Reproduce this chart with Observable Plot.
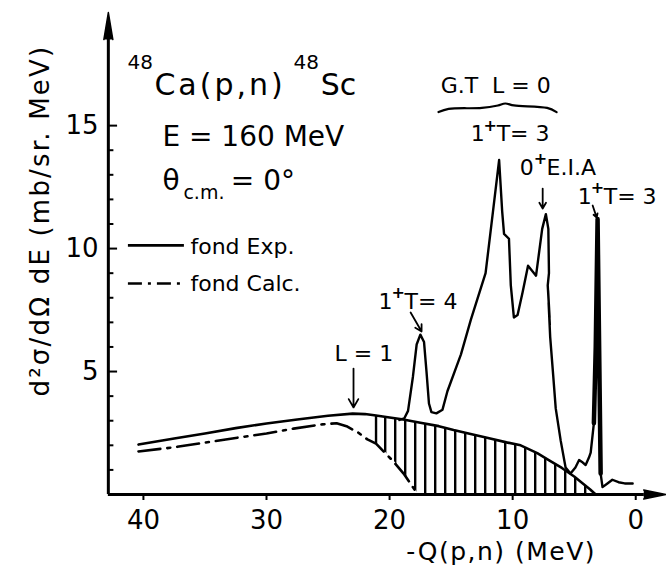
<!DOCTYPE html>
<html><head><meta charset="utf-8">
<script src="https://cdn.jsdelivr.net/npm/d3@7"></script>
<script src="https://cdn.jsdelivr.net/npm/@observablehq/plot@0.6"></script>
<style>body{margin:0;background:#fff} svg{display:block}</style>
</head><body><div id="chart"></div>
<script>
// -Q(p,n) (MeV) and d2sigma/dOmega dE (mb/sr.MeV)
const spectrumQ     = [19.2, 18.8, 18.5, 18.1, 17.8, 17.5, 17.2, 17.0, 16.8, 16.6, 16.2, 15.7, 15.3, 14.2, 13.4, 12.2, 11.6, 11.1, 10.85, 10.7, 10.3, 10.15, 9.9, 9.6, 9.2, 8.75, 8.1, 7.6, 7.3, 7.1, 7.05, 7.15, 7.0, 7.12, 6.98, 7.08, 6.95, 6.7, 6.5, 6.1, 5.7, 5.3, 4.9, 4.6, 4.3, 4.07, 3.8, 3.66, 3.4, 3.25, 3.1, 2.95, 2.85, 2.7, 2.3, 1.9, 1.4, 0.9, 0.25];
const spectrumSigma = [3.03, 3.1, 3.4, 4.8, 6.1, 6.5, 6.2, 5.0, 3.7, 3.35, 3.3, 3.45, 4.2, 5.7, 7.1, 9.0, 11.5, 13.6, 11.5, 10.6, 10.4, 8.5, 7.2, 7.3, 8.2, 9.3, 8.9, 10.8, 11.4, 10.8, 9.0, 8.5, 7.2, 8.3, 6.9, 7.8, 6.4, 4.8, 3.5, 2.2, 1.1, 0.85, 1.1, 1.4, 1.3, 1.2, 1.5, 1.7, 2.9, 6.0, 11.2, 5.0, 0.85, 0.3, 0.45, 0.6, 0.5, 0.45, 0.45];
const narrowPeakQ     = [3.4, 3.25, 3.1, 2.95, 2.85];
const narrowPeakSigma = [2.9, 6.0, 11.2, 5.0, 0.85];
const fondExpQ     = [40.4, 37.5, 35, 32.5, 30, 27.5, 25, 23, 22, 21.1, 20, 19, 17.5, 16, 14.8, 13.5, 12, 10.5, 9.35, 8, 7, 6, 5, 4.3, 3.7, 3.25];
const fondExpSigma = [2.03, 2.28, 2.48, 2.7, 2.89, 3.05, 3.2, 3.29, 3.27, 3.21, 3.13, 3.06, 2.92, 2.78, 2.62, 2.47, 2.3, 2.12, 2.0, 1.68, 1.38, 1.08, 0.73, 0.45, 0.2, 0];
const fondCalcQ     = [40.4, 37.5, 35, 32.5, 30, 27.8, 25.5, 24.3, 23.5, 22.5, 21.8, 21.1, 19.76, 18.86, 17.7];
const fondCalcSigma = [1.75, 1.92, 2.11, 2.3, 2.48, 2.68, 2.85, 2.9, 2.78, 2.5, 2.24, 2.07, 1.38, 0.85, 0];
const hatchStart = 21.1;
const xTicks = [40, 30, 20, 10, 0];
const yTicks = [5, 10, 15];
const yMinorTicks = [1, 2, 3, 4, 6, 7, 8, 9, 11, 12, 13, 14];

const spectrum = spectrumQ.map((q, i) => ({q, s: spectrumSigma[i]}));
const narrowPeak = narrowPeakQ.map((q, i) => ({q, s: narrowPeakSigma[i]}));
const fondExp = fondExpQ.map((q, i) => ({q, s: fondExpSigma[i]}));
const fondCalc = fondCalcQ.map((q, i) => ({q, s: fondCalcSigma[i]}));
const hatchEdge = [{q: hatchStart, s1: fondCalcSigma[fondCalcQ.indexOf(hatchStart)], s2: fondExpSigma[fondExpQ.indexOf(hatchStart)]}];

// annotations (data coordinates)
const bigTexts = [
  {x: 39.11, y: 16.23, t: "Ca(p,n)"},
  {x: 25.6, y: 16.23, t: "Sc"}
];
const supTexts = [
  {x: 41.30, y: 17.32, t: "48"},
  {x: 27.8, y: 17.32, t: "48"}
];
const midTexts = [
  {x: 38.46, y: 14.19, t: "E = 160 MeV"},
  {x: 38.46, y: 12.40, t: "θ"},
  {x: 32.9, y: 12.40, t: "= 0°"}
];
const subTexts = [{x: 36.75, y: 12.0, t: "c.m."}];
const smallTexts = [
  {x: 36.18, y: 9.80, t: "fond Exp."},
  {x: 36.18, y: 8.26, t: "fond Calc."},
  {x: 15.85, y: 16.31, t: "G.T  L = 0"},
  {x: 24.47, y: 5.41, t: "L = 1"}
];
// state labels: base digit, raised plus, rest
const stateBase = [
  {x: 13.41, y: 14.36, t: "1"},
  {x: 9.43, y: 13.01, t: "0"},
  {x: 4.72, y: 11.83, t: "1"},
  {x: 20.89, y: 7.56, t: "1"}
];
const statePlus = [
  {x: 12.36, y: 14.78, t: "+"},
  {x: 8.29, y: 13.43, t: "+"},
  {x: 3.66, y: 12.25, t: "+"},
  {x: 19.84, y: 7.98, t: "+"}
];
const stateRest = [
  {x: 11.30, y: 14.36, t: "T= 3"},
  {x: 7.25, y: 13.01, t: "E.I.A"},
  {x: 2.60, y: 11.83, t: "T= 3"},
  {x: 18.78, y: 7.56, t: "T= 4"}
];
const legendSolid = [{x1: 41.22, x2: 36.67, y: 10.13}];
const legendDash = [{x1: 41.22, x2: 36.67, y: 8.58}];
const arrows = [
  {x1: 22.93, y1: 5.12, x2: 22.93, y2: 3.54},
  {x1: 18.29, y1: 7.40, x2: 17.40, y2: 6.63},
  {x1: 7.56, y1: 12.44, x2: 7.56, y2: 11.63},
  {x1: 3.50, y1: 11.75, x2: 3.17, y2: 11.26}
];
const braceQ = [16.02, 15.2, 12.5, 11.2, 10.6, 9.9, 7.2, 6.43];
const braceS = [15.55, 15.68, 15.72, 15.82, 15.90, 15.82, 15.72, 15.55];
const brace = braceQ.map((q, i) => ({q, s: braceS[i]}));

const FONT = "DejaVu Sans";
const dash = "22,7,3,7";
const axisQ = 42.85;

const txt = (data, size, extra = {}) => Plot.text(data, {x: "x", y: "y", text: "t", textAnchor: "start", lineAnchor: "bottom", fontSize: size, ...extra});

const svg = Plot.plot({
  width: 666, height: 565,
  marginLeft: 106, marginRight: 0, marginTop: 12, marginBottom: 71,
  x: {domain: [43, -2.5]},
  y: {domain: [0, 19.6]},
  style: {fontFamily: FONT, color: "black", background: "white"},
  marks: [
    Plot.areaY(fondExp.filter(d => d.q <= hatchStart), {x: "q", y: "s", fill: "url(#hatch)"}),
    Plot.areaY(fondCalc.filter(d => d.q <= hatchStart), {x: "q", y: "s", fill: "white", stroke: "white", strokeWidth: 1.5}),
    Plot.ruleX(hatchEdge, {x: "q", y1: "s1", y2: "s2", strokeWidth: 2.4}),
    Plot.line(fondExp, {x: "q", y: "s", stroke: "black", strokeWidth: 2.6}),
    Plot.line(fondCalc, {x: "q", y: "s", stroke: "black", strokeWidth: 2.6, strokeDasharray: dash}),
    Plot.line(spectrum, {x: "q", y: "s", stroke: "black", strokeWidth: 2.4, strokeLinejoin: "round"}),
    Plot.line(narrowPeak, {x: "q", y: "s", stroke: "black", strokeWidth: 4.5}),
    // axes
    Plot.ruleX([axisQ], {y1: 0, y2: 18.6, strokeWidth: 3}),
    Plot.vector([0], {x: axisQ, y: 18.5, length: 27, r: 4.5, shape: "spike", anchor: "start", rotate: 0, fill: "black", stroke: "black"}),
    Plot.ruleY([0], {x1: axisQ, x2: -0.7, strokeWidth: 3}),
    Plot.vector([0], {x: -0.65, y: 0, length: 22, r: 4.5, shape: "spike", anchor: "start", rotate: 90, fill: "black", stroke: "black"}),
    Plot.ruleY(yTicks, {x1: axisQ, x2: 42.1, strokeWidth: 2}),
    Plot.ruleY(yMinorTicks, {x1: axisQ, x2: 42.4, strokeWidth: 2}),
    Plot.axisX({ticks: xTicks, tickSize: 6, tickPadding: 10, fontSize: 26, label: null, strokeWidth: 2}),
    Plot.axisY({ticks: yTicks, tickSize: 0, tickPadding: 8, fontSize: 26, label: null}),
    Plot.text(["d²σ/dΩ dE (mb/sr. MeV)"], {x: 48.37, y: 11.14, rotate: -90, fontSize: 26}),
    Plot.text(["-Q(p,n) (MeV)"], {x: 10.93, y: -2.68, lineAnchor: "bottom", fontSize: 25}),
    // annotations
    txt(bigTexts, 30),
    txt(supTexts, 20),
    txt(midTexts, 28),
    txt(subTexts, 19),
    txt(smallTexts, 22),
    txt(stateBase, 22),
    txt(statePlus, 16, {fontWeight: "bold"}),
    txt(stateRest, 22),
    Plot.ruleY(legendSolid, {x1: "x1", x2: "x2", y: "y", strokeWidth: 2.6}),
    Plot.ruleY(legendDash, {x1: "x1", x2: "x2", y: "y", strokeWidth: 2.6, strokeDasharray: "14,6,3,6"}),
    Plot.arrow(arrows, {x1: "x1", y1: "y1", x2: "x2", y2: "y2", headLength: 8, strokeWidth: 1.8}),
    Plot.line(brace, {x: "q", y: "s", curve: "catmull-rom", strokeWidth: 2.2})
  ]
});

svg.querySelectorAll("text").forEach(t => {
  if (t.textContent === "Ca(p,n)") t.setAttribute("letter-spacing", "3");
  if (t.textContent === "-Q(p,n) (MeV)") t.setAttribute("letter-spacing", "1.5");
  if (t.textContent === "d²σ/dΩ dE (mb/sr. MeV)") t.setAttribute("letter-spacing", "2.2");
});

const NS = "http://www.w3.org/2000/svg";
const defs = document.createElementNS(NS, "defs");
const pat = document.createElementNS(NS, "pattern");
pat.setAttribute("id", "hatch");
pat.setAttribute("patternUnits", "userSpaceOnUse");
pat.setAttribute("width", "10");
pat.setAttribute("height", "10");
const ln = document.createElementNS(NS, "rect");
ln.setAttribute("x", "4");
ln.setAttribute("y", "0");
ln.setAttribute("width", "2.4");
ln.setAttribute("height", "10");
ln.setAttribute("fill", "black");
pat.appendChild(ln);
defs.appendChild(pat);
svg.insertBefore(defs, svg.firstChild);
document.getElementById("chart").appendChild(svg);
</script>
</body></html>
